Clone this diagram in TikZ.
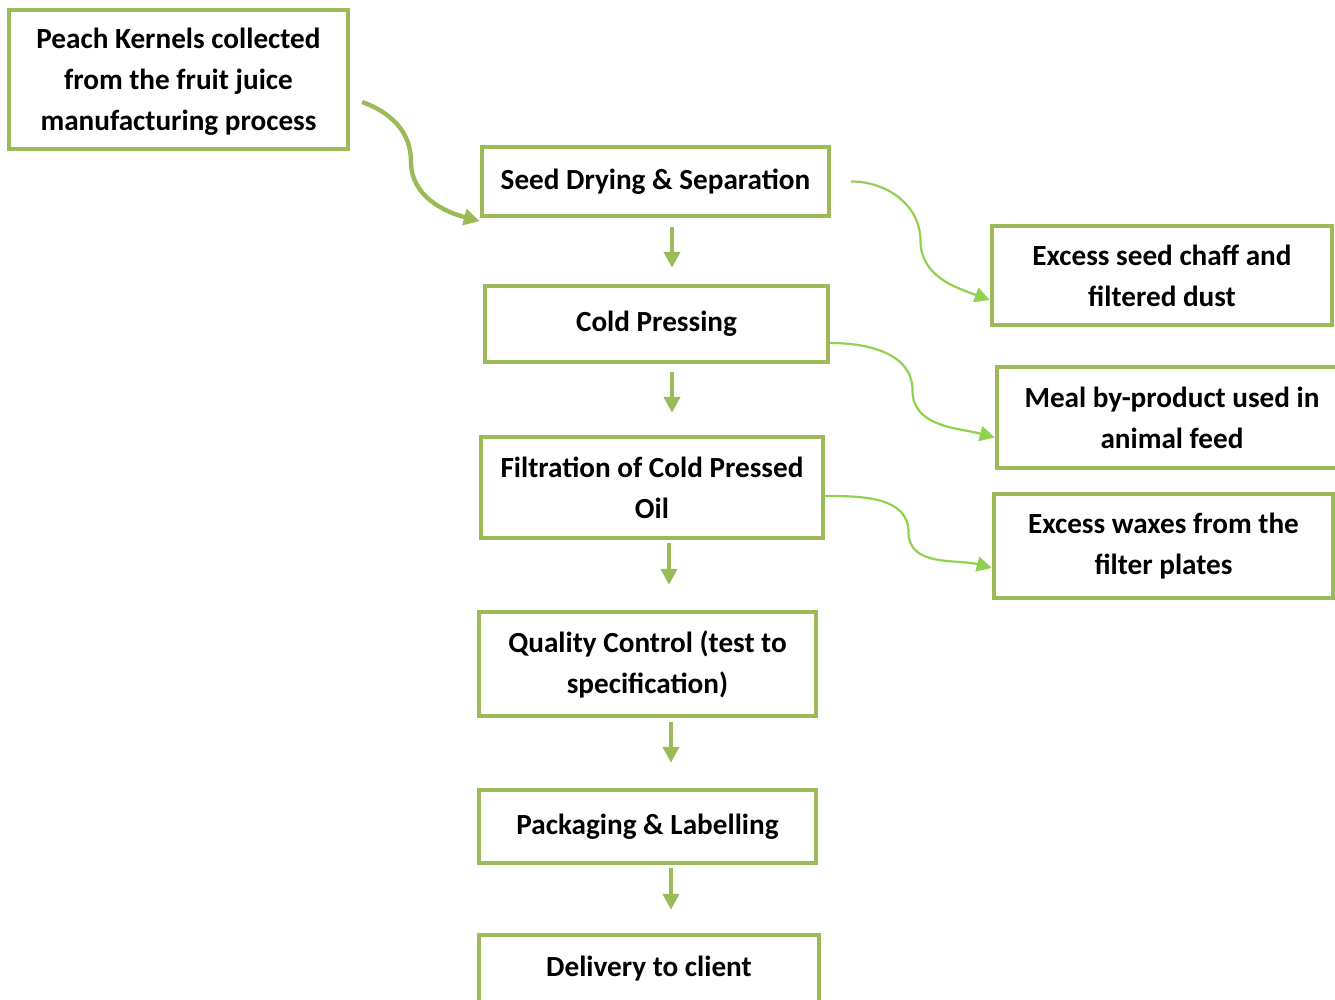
\documentclass[tikz,border=0pt]{standalone}
\usepackage{fontspec}
\setmainfont{Carlito}
\usetikzlibrary{arrows.meta,calc}

\definecolor{boxgreen}{RGB}{155,187,89}
\definecolor{limegreen}{RGB}{146,208,80}

\tikzset{every picture/.style={line width=1pt}}
\tikzset{
  stepbox/.style={draw=boxgreen, line width=2.2pt, align=center, inner sep=0pt,
    font=\fontsize{14.6}{20.5}\selectfont\bfseries},
  downarrow/.style={draw=boxgreen, line width=2.2pt, -{Triangle[length=8pt,width=8pt]}},
  mainfeed/.style={draw=boxgreen, line width=2.2pt, -{Triangle[length=8pt,width=8pt]}},
  sidefeed/.style={draw=limegreen, line width=1.1pt, -{Triangle[length=7.5pt,width=7.5pt]}}
}

\begin{document}
\begin{tikzpicture}[x=0.5pt,y=0.5pt,yscale=-1]
\useasboundingbox (0,0) rectangle (1335,1000);

%Shape: Rectangle [peach kernels]
\node[stepbox, minimum width=169.5pt, minimum height=69.5pt, text depth=0pt] (peach) at (178.5,79.5)
  {Peach Kernels collected\\ from the fruit juice\\ manufacturing process};
%Shape: Rectangle [seed drying]
\node[stepbox, minimum width=173.5pt, minimum height=34.5pt] (seed) at (655.5,181.5)
  {Seed Drying \& Separation};
%Shape: Rectangle [cold pressing]
\node[stepbox, minimum width=171.5pt, minimum height=38pt] (cold) at (656.5,324)
  {Cold Pressing};
%Shape: Rectangle [filtration]
\node[stepbox, minimum width=171pt, minimum height=50.5pt] (filt) at (652,487.5)
  {Filtration of Cold Pressed\\ Oil};
%Shape: Rectangle [quality control]
\node[stepbox, minimum width=168.5pt, minimum height=52pt] (qc) at (647.5,664)
  {Quality Control (test to\\ specification)};
%Shape: Rectangle [packaging]
\node[stepbox, minimum width=168.5pt, minimum height=36.5pt] (pack) at (647.5,826.5)
  {Packaging \& Labelling};
%Shape: Rectangle [delivery]
\node[stepbox, minimum width=170pt, minimum height=37.5pt, text depth=6pt] (deliv) at (649,972.5)
  {Delivery to client};
%Shape: Rectangle [chaff and dust]
\node[stepbox, minimum width=170pt, minimum height=49.5pt] (chaff) at (1162,275.5)
  {Excess seed chaff and\\ filtered dust};
%Shape: Rectangle [meal]
\node[stepbox, minimum width=175pt, minimum height=50.5pt] (meal) at (1172,417.5)
  {Meal by-product used in\\ animal feed};
%Shape: Rectangle [waxes]
\node[stepbox, minimum width=169.5pt, minimum height=52pt] (wax) at (1163.5,546)
  {Excess waxes from the\\ filter plates};

%Straight Lines
\draw[downarrow] ($(seed.south)+(16.5,9)$) -- ($(cold.north)+(15.5,-16)$);
\draw[downarrow] ($(cold.south)+(15.5,8)$) -- ($(filt.north)+(20,-22)$);
\draw[downarrow] ($(filt.south)+(17,3)$) -- ($(qc.north)+(21.5,-25)$);
\draw[downarrow] ($(qc.south)+(23.5,4)$) -- ($(pack.north)+(23.5,-25)$);
\draw[downarrow] ($(pack.south)+(23.5,3)$) -- ($(deliv.north)+(22,-23)$);

%Curve Lines
\coordinate (s0) at ($(peach.east)+(12,22.5)$);
\coordinate (e0) at ($(seed.south west)+(0,3)$);
\draw[mainfeed] (s0) to[out=20,in=-90] ($(s0)!.5!(e0)+(-10,0)$) to[out=90,in=195] (e0);
\coordinate (s1) at ($(seed.east)+(20,0)$);
\coordinate (e1) at ($(chaff.west)+(0,24.5)$);
\draw[sidefeed] (s1) to[out=0,in=-90] ($(s1)!.5!(e1)$) to[out=90,in=200] (e1);
\coordinate (s2) at ($(cold.east)+(0,19)$);
\coordinate (e2) at ($(meal.west)+(0,20)$);
\draw[sidefeed] (s2) to[out=0,in=-90] ($(s2)!.5!(e2)$) to[out=90,in=195] (e2);
\coordinate (s3) at ($(filt.east)+(0,8.5)$);
\coordinate (e3) at ($(wax.west)+(0,22)$);
\draw[sidefeed] (s3) to[out=0,in=-90] ($(s3)!.5!(e3)$) to[out=90,in=195] (e3);

\end{tikzpicture}
\end{document}
